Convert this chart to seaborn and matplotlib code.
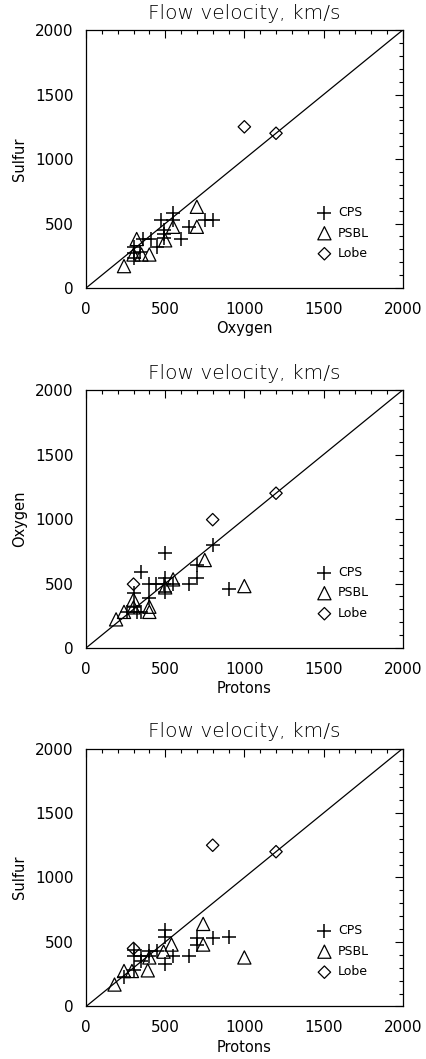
import numpy as np
import pandas as pd
import matplotlib
matplotlib.use('Agg')
import matplotlib.pyplot as plt
from matplotlib.ticker import MultipleLocator
import seaborn as sns

# panel 1: oxygen (x) vs sulfur (y)
p1_cps_x = [550, 550, 475, 650, 750, 800, 600, 490, 490, 490, 410, 360, 450, 300, 300, 300, 340]
p1_cps_y = [580, 530, 530, 475, 530, 530, 380, 450, 420, 390, 380, 380, 320, 320, 270, 230, 280]
p1_psbl_x = [700, 700, 550, 500, 320, 400, 350, 300, 240]
p1_psbl_y = [630, 475, 475, 370, 380, 260, 260, 260, 170]
p1_lobe_x = [1000, 1200]
p1_lobe_y = [1250, 1200]

# panel 2: protons (x) vs oxygen (y)
p2_cps_x = [500, 800, 700, 700, 900, 650, 350, 400, 440, 490, 500, 500, 550, 400, 300, 350, 320, 260, 300]
p2_cps_y = [735, 800, 640, 540, 460, 495, 590, 495, 495, 495, 540, 435, 495, 385, 320, 280, 280, 280, 430]
p2_psbl_x = [750, 550, 500, 300, 300, 400, 400, 240, 190, 1000]
p2_psbl_y = [682, 532, 470, 375, 315, 320, 280, 280, 222, 480]
p2_lobe_x = [300, 800, 1200]
p2_lobe_y = [495, 995, 1200]

# panel 3: protons (x) vs sulfur (y)
p3_cps_x = [500, 500, 700, 700, 800, 900, 650, 550, 500, 400, 450, 300, 300, 350, 350, 400, 240, 300]
p3_cps_y = [590, 540, 530, 480, 530, 540, 390, 390, 330, 430, 430, 440, 390, 390, 350, 390, 230, 280]
p3_psbl_x = [740, 740, 540, 490, 400, 390, 290, 240, 180, 1000]
p3_psbl_y = [640, 480, 480, 425, 380, 280, 275, 275, 170, 380]
p3_lobe_x = [300, 800, 1200]
p3_lobe_y = [450, 1250, 1200]

panels = [
    ('Oxygen', 'Sulfur', (p1_cps_x, p1_cps_y), (p1_psbl_x, p1_psbl_y), (p1_lobe_x, p1_lobe_y)),
    ('Protons', 'Oxygen', (p2_cps_x, p2_cps_y), (p2_psbl_x, p2_psbl_y), (p2_lobe_x, p2_lobe_y)),
    ('Protons', 'Sulfur', (p3_cps_x, p3_cps_y), (p3_psbl_x, p3_psbl_y), (p3_lobe_x, p3_lobe_y)),
]

sns.set_style('white')
plt.rcParams['font.family'] = ['DejaVu Sans']
for key in ['text.color', 'axes.labelcolor', 'xtick.color', 'ytick.color']:
    plt.rcParams[key] = 'black'

fig = plt.figure(figsize=(4.26, 10.59), dpi=100)
bottoms = [0.728, 0.3881, 0.0496]

for (xlab, ylab, cps, psbl, lobe), b in zip(panels, bottoms):
    ax = fig.add_axes([0.2019, b, 0.7434, 0.2436])
    ax.plot([0, 2000], [0, 2000], color='black', lw=0.9)
    sns.scatterplot(x=cps[0], y=cps[1], marker='+', s=90, color='black', linewidth=1.1, label='CPS', ax=ax)
    sns.scatterplot(x=psbl[0], y=psbl[1], marker='^', s=90, facecolor='none', edgecolor='black', linewidth=0.9, label='PSBL', ax=ax)
    sns.scatterplot(x=lobe[0], y=lobe[1], marker='D', s=40, facecolor='none', edgecolor='black', linewidth=0.9, label='Lobe', ax=ax)
    ax.set_xlim(0, 2000)
    ax.set_ylim(0, 2000)
    ax.xaxis.set_major_locator(MultipleLocator(500))
    ax.yaxis.set_major_locator(MultipleLocator(500))
    ax.xaxis.set_minor_locator(MultipleLocator(100))
    ax.yaxis.set_minor_locator(MultipleLocator(100))
    ax.tick_params(which='both', direction='in', top=True, right=True, width=0.8, labelsize=11)
    ax.tick_params(axis='y', which='major', pad=9)
    ax.tick_params(axis='x', which='major', pad=10)
    ax.tick_params(which='major', length=6)
    ax.tick_params(which='minor', length=3)
    for sp in ax.spines.values():
        sp.set_color('black')
        sp.set_linewidth(0.9)
    ax.set_title('Flow velocity, km/s', fontsize=14.5, fontweight='light', pad=8)
    ax.set_xlabel(xlab, fontsize=10.5, labelpad=3)
    ax.set_ylabel(ylab, fontsize=10.5, labelpad=6)
    ax.legend(loc='lower right', bbox_to_anchor=(0.93, 0.065), frameon=False, fontsize=9,
              handletextpad=0.6, labelspacing=0.6, handlelength=1.0)

fig.savefig('out.png', dpi=100)
